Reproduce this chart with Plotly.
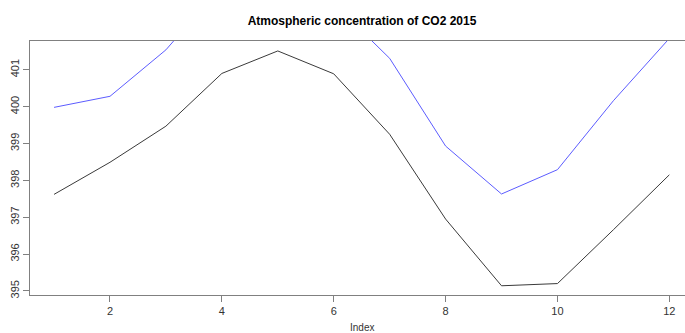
import plotly.graph_objects as go

# Monthly CO2 concentration (ppm), 2015
months = list(range(1, 13))
co2_trend = [397.62, 398.49, 399.47, 400.90, 401.51, 400.89,
             399.25, 396.95, 395.14, 395.20, 396.66, 398.15]
co2_monthly = [399.98, 400.28, 401.54, 403.28, 403.96, 402.80,
               401.31, 398.93, 397.63, 398.29, 400.16, 401.85]

x_ticks = [2, 4, 6, 8, 10, 12]
y_ticks = [395, 396, 397, 398, 399, 400, 401]

fig = go.Figure()
fig.add_trace(go.Scatter(x=months, y=co2_trend, mode="lines",
                         line=dict(color="#3a3a3a", width=1), cliponaxis=True))
fig.add_trace(go.Scatter(x=months, y=co2_monthly, mode="lines",
                         line=dict(color="#5c5cff", width=1), cliponaxis=True))

axis_font = dict(family="Liberation Sans, Arial, sans-serif", size=11, color="#333")

fig.update_layout(
    width=685, height=333,
    margin=dict(l=30, r=0, t=41, b=38),
    paper_bgcolor="white", plot_bgcolor="white",
    showlegend=False,
    title=dict(text="<b>Atmospheric concentration of CO2 2015</b>",
               x=362 / 685, xanchor="center", y=1 - 21 / 333, yanchor="middle",
               font=dict(family="Liberation Sans, Arial, sans-serif", size=12, color="black")),
    xaxis=dict(range=[0.57, 12.28], tickvals=x_ticks, showgrid=False, zeroline=False,
               showline=True, linecolor="#808080", linewidth=1, mirror=True,
               ticks="outside", ticklen=6, tickcolor="#808080", tickfont=axis_font),
    yaxis=dict(range=[394.89, 401.78], tickvals=y_ticks, showgrid=False, zeroline=False,
               showline=True, linecolor="#808080", linewidth=1,
               ticks="outside", ticklen=6, tickcolor="#808080", tickangle=-90,
               tickfont=axis_font),
)

# x-axis title placed low, kept fully inside the canvas
fig.add_annotation(text="Index", xref="paper", yref="paper",
                   x=(362 - 30) / 655, y=-(320 - 295) / 254,
                   xanchor="center", yanchor="top", showarrow=False,
                   font=dict(family="Liberation Sans, Arial, sans-serif", size=10, color="#333"))

fig.write_html("out.html")
